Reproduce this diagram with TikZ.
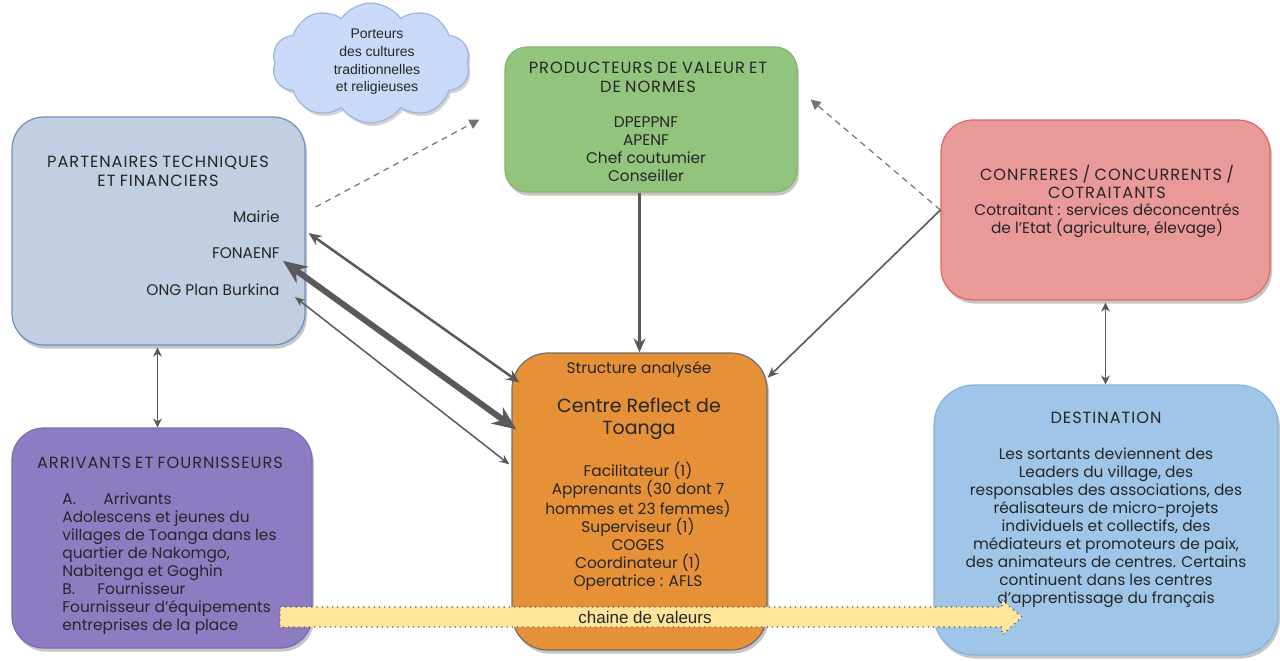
\documentclass[tikz,border=0pt]{standalone}
\usepackage{fontspec}
\setmainfont{Poppins}
\newfontfamily\cloudfont{Liberation Sans}
\newfontfamily\capsface[LetterSpace=6,WordSpace=0.8]{Poppins}
\usetikzlibrary{arrows.meta,shadows,shapes.symbols,calc}

\definecolor{ink}{HTML}{262626}
\definecolor{arrowgray}{HTML}{595959}
\definecolor{ptfill}{HTML}{C2CEE2}
\definecolor{ptline}{HTML}{6D8FC5}
\definecolor{arrfill}{HTML}{8E7CC3}
\definecolor{arrline}{HTML}{7B69B3}
\definecolor{prodfill}{HTML}{93C47D}
\definecolor{prodline}{HTML}{83B76C}
\definecolor{conffill}{HTML}{EA9999}
\definecolor{confline}{HTML}{E06666}
\definecolor{destfill}{HTML}{9FC5E8}
\definecolor{destline}{HTML}{85B2DD}
\definecolor{ctrfill}{HTML}{E69138}
\definecolor{ctrline}{HTML}{6E6E6E}
\definecolor{cloudfill}{HTML}{C9DAF8}
\definecolor{cloudline}{HTML}{9DB6E0}
\definecolor{chainfill}{HTML}{FFE599}

\newcommand\txtsize{\fontsize{7.7}{9}\selectfont}
\newcommand\capsize{\capsface\fontsize{8.1}{9.4}\selectfont}
\newcommand\bigsize{\fontsize{9.5}{11}\selectfont}

\tikzset{
  box/.style={draw, line width=0.6pt, inner sep=0pt,
    drop shadow={shadow xshift=1pt, shadow yshift=-1.8pt, opacity=0.45}},
  label/.style={text=ink, inner sep=0pt, font=\txtsize},
  heading/.style={text=ink, inner sep=0pt, font=\capsize, align=center},
  duo/.style={draw=arrowgray, line width=#1},
  dashlink/.style={draw=arrowgray!85, line width=0.6pt, dash pattern=on 3pt off 2.5pt,
    -{Triangle[length=5pt,width=5pt]}},
}

\begin{document}
\begin{tikzpicture}[x=0.5pt,y=-0.5pt]
\useasboundingbox (0,0) rectangle (1280,660);

% ---------- boxes ----------
\node[box, rounded corners=16pt, fill=ptfill, draw=ptline,
      minimum width=146.5pt, minimum height=114pt] (pt) at (158.5,231) {};
\node[box, rounded corners=16pt, fill=arrfill, draw=arrline,
      minimum width=150pt, minimum height=110pt] (arr) at (162,538) {};
\node[box, rounded corners=11pt, fill=prodfill, draw=prodline,
      minimum width=146pt, minimum height=72.5pt] (prod) at (651,119.5) {};
\node[box, rounded corners=16pt, fill=conffill, draw=confline,
      minimum width=164.5pt, minimum height=90pt] (conf) at (1105.5,210) {};
\node[box, rounded corners=20pt, fill=destfill, draw=destline,
      minimum width=172pt, minimum height=135pt] (dest) at (1106,520) {};
\node[box, rounded corners=18pt, fill=ctrfill, draw=ctrline,
      minimum width=127.5pt, minimum height=148.5pt] (ctr) at (639.5,501.5) {};
\node[cloud, cloud puffs=10, cloud puff arc=110, aspect=1.75, draw=cloudline, fill=cloudfill,
      line width=0.6pt, minimum width=99pt, minimum height=60pt, inner sep=0pt,
      drop shadow={shadow xshift=1pt, shadow yshift=-1.5pt, opacity=0.35}] (cloud) at (371,63) {};

% ---------- texts ----------
\node[text=ink, align=center, inner sep=0pt, font=\cloudfont\fontsize{7}{8.8}\selectfont] (cloudtxt) at (377,62)
  {Porteurs\\des cultures\\traditionnelles\\et religieuses};

\node[heading] (pttitle) at (158,171) {PARTENAIRES TECHNIQUES\\ET FINANCIERS};
\node[label, anchor=east] (mairie) at (280,217) {Mairie};
\node[label, anchor=east] (fonaenf) at (280,253) {FONAENF};
\node[label, anchor=east] (ong) at (280,290) {ONG Plan Burkina};

\node[heading] (arrtitle) at (160,463) {ARRIVANTS ET FOURNISSEURS};
\node[label, align=left, anchor=west] (arrbody) at (62,563.5)
  {\makebox[20.5pt][l]{A.}Arrivants\\
   Adolescens et jeunes du\\
   villages de Toanga dans les\\
   quartier de Nakomgo,\\
   Nabitenga et Goghin\\
   \makebox[17.5pt][l]{B.}Fournisseur\\
   Fournisseur d’équipements\\
   entreprises de la place};

\node[heading] (prodtitle) at (648,77.5) {PRODUCTEURS DE VALEUR ET\\DE NORMES};
\node[label, align=center] (prodbody) at (646,149) {DPEPPNF\\APENF\\Chef coutumier\\Conseiller};

\node[heading] (conftitle) at (1107,182) {CONFRERES / CONCURRENTS /\\COTRAITANTS};
\node[label, align=center] (confbody) at (1107,220.5)
  {Cotraitant : services déconcentrés\\de l’Etat (agriculture, élevage)};

\node[heading] (desttitle) at (1106,418) {DESTINATION};
\node[label, align=center] (destbody) at (1106,527.5)
  {Les sortants deviennent des\\
   Leaders du village, des\\
   responsables des associations, des\\
   réalisateurs de micro-projets\\
   individuels et collectifs, des\\
   médiateurs et promoteurs de paix,\\
   des animateurs de centres. Certains\\
   continuent dans les centres\\
   d’apprentissage du français};

\node[label] (ctrsub) at (639,369) {Structure analysée};
\node[label, align=center, font=\bigsize] (ctrname) at (639,419) {Centre Reflect de\\Toanga};
\node[label, align=center] (ctrbody) at (638,526)
  {Facilitateur (1)\\
   Apprenants (30 dont 7\\
   hommes et 23 femmes)\\
   Superviseur (1)\\
   COGES\\
   Coordinateur (1)\\
   Operatrice : AFLS};

% ---------- connectors ----------
\draw[dashlink] ($(pt.east)+(10,-24)$) -- ($(prod.west)+(-25,0)$);
\draw[dashlink] (conf.west) -- ($(prod.east)+(13,-20)$);

\draw[duo=1.4pt, -{Stealth[length=7pt,width=6pt]}] (ctr.north |- prod.south) -- (ctr.north);
\draw[duo=0.8pt, -{Stealth[length=5.5pt,width=4.5pt]}] (conf.west) -- (ctr.44);

\draw[duo=1.25pt, {Stealth[length=6.5pt,width=5.5pt]}-{Stealth[length=6.5pt,width=5.5pt]}]
  ($(pt.east)+(3,2)$) -- ($(ctr.north west)+(8,30)$);
\draw[duo=3pt, {Stealth[length=12pt,width=10pt]}-{Stealth[length=12pt,width=10pt]}]
  ($(fonaenf.south east)+(3,2)$) -- ($(ctr.north west)+(5,77)$);
\draw[duo=0.75pt, {Stealth[length=5pt,width=4pt]}-{Stealth[length=5pt,width=4pt]}]
  ($(ong.east)+(15,7)$) -- ($(ctr.north west)+(-2,112)$);

\draw[duo=0.6pt, {Stealth[length=4.5pt,width=4.5pt]}-{Stealth[length=4.5pt,width=4.5pt]}]
  ($(pt.south)+(-1,2)$) -- ($(pt.south |- arr.north)+(-1,0)$);
\draw[duo=0.6pt, {Stealth[length=4.5pt,width=4.5pt]}-{Stealth[length=4.5pt,width=4.5pt]}]
  ($(conf.south)+(0,2)$) -- (conf.south |- dest.north);

% ---------- value chain arrow ----------
\coordinate (chaintip) at (1022,617);
\fill[chainfill] (280,607) -- (1002,607) -- (1002,600) -- (chaintip) -- (1002,635) -- (1002,627) -- (280,627) -- cycle;
\draw[arrowgray, line width=0.6pt, dotted] (280,607) -- (1002,607) -- (1002,600) -- (chaintip) -- (1002,635) -- (1002,627) -- (280,627) -- cycle;
\node[text=ink, font=\cloudfont\fontsize{8.5}{10}\selectfont, inner sep=0pt] (chain) at (645,617) {chaine de valeurs};
\end{tikzpicture}
\end{document}
